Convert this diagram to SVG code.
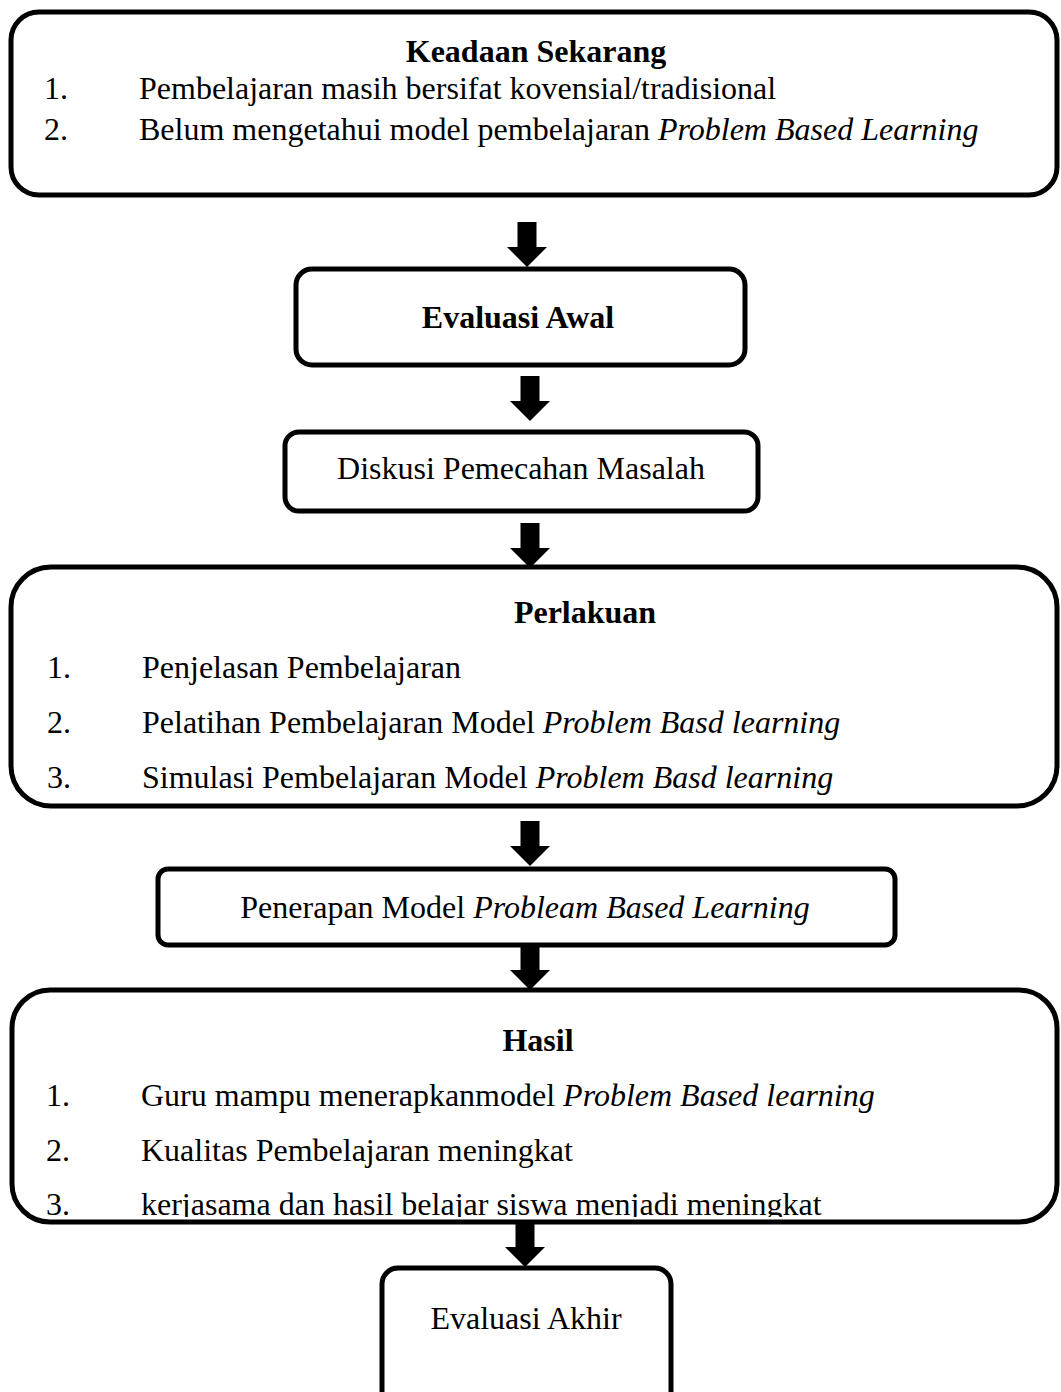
<svg xmlns="http://www.w3.org/2000/svg" width="1061" height="1392" viewBox="0 0 1061 1392">
  <style>
    .box { fill: #ffffff; stroke: #000000; stroke-width: 5; }
    .arrow { fill: #000000; }
    text { font-family: "Liberation Serif", "Times New Roman", serif; font-size: 32px; fill: #000000; }
    .head { font-weight: bold; text-anchor: middle; }
    .mid { text-anchor: middle; }
    .it { font-style: italic; }
  </style>
  <defs>
    <!-- block arrow, tip at origin -->
    <path id="down" d="M-9.5,-45 H9.5 V-20 H20 L0,0 L-20,-20 H-9.5 Z"/>
    <clipPath id="cutLast">
      <rect x="0" y="1180" width="1061" height="37"/>
    </clipPath>
  </defs>
  <rect width="1061" height="1392" fill="#ffffff"/>

  <g id="connectors" class="arrow">
    <use href="#down" x="527" y="267"/>
    <use href="#down" x="530" y="421"/>
    <use href="#down" x="530" y="568"/>
    <use href="#down" x="530" y="866"/>
    <use href="#down" x="530" y="990"/>
    <use href="#down" x="525" y="1267"/>
  </g>

  <g id="keadaan-sekarang">
    <rect class="box" x="11" y="12" width="1046" height="183" rx="28"/>
    <text class="head" x="536" y="62">Keadaan Sekarang</text>
    <text x="44" y="99">1.</text>
    <text x="139" y="99">Pembelajaran masih bersifat kovensial/tradisional</text>
    <text x="44" y="140">2.</text>
    <text x="139" y="140">Belum mengetahui model pembelajaran <tspan class="it">Problem Based Learning</tspan></text>
  </g>

  <g id="evaluasi-awal">
    <rect class="box" x="296" y="269" width="449" height="96" rx="16"/>
    <text class="head" x="518" y="328">Evaluasi Awal</text>
  </g>

  <g id="diskusi">
    <rect class="box" x="285" y="432" width="473" height="79" rx="14"/>
    <text class="mid" x="521" y="479">Diskusi Pemecahan Masalah</text>
  </g>

  <g id="perlakuan">
    <rect class="box" x="11" y="567" width="1046" height="239" rx="40"/>
    <text class="head" x="585" y="623">Perlakuan</text>
    <text x="47" y="678">1.</text>
    <text x="142" y="678">Penjelasan Pembelajaran</text>
    <text x="47" y="733">2.</text>
    <text x="142" y="733">Pelatihan Pembelajaran Model <tspan class="it">Problem Basd learning</tspan></text>
    <text x="47" y="788">3.</text>
    <text x="142" y="788">Simulasi Pembelajaran Model <tspan class="it">Problem Basd learning</tspan></text>
  </g>

  <g id="penerapan">
    <rect class="box" x="158" y="869" width="737" height="76" rx="10"/>
    <text class="mid" x="525" y="918">Penerapan Model <tspan class="it">Probleam Based Learning</tspan></text>
  </g>

  <g id="hasil">
    <rect class="box" x="12" y="990" width="1045" height="232" rx="38"/>
    <text class="head" x="538" y="1051">Hasil</text>
    <text x="46" y="1106">1.</text>
    <text x="141" y="1106">Guru mampu menerapkanmodel <tspan class="it">Problem Based learning</tspan></text>
    <text x="46" y="1161">2.</text>
    <text x="141" y="1161">Kualitas Pembelajaran meningkat</text>
    <g clip-path="url(#cutLast)">
      <text x="46" y="1215">3.</text>
      <text x="141" y="1215">kerjasama dan hasil belajar siswa menjadi meningkat</text>
    </g>
  </g>

  <g id="evaluasi-akhir">
    <rect class="box" x="382" y="1268" width="289" height="150" rx="16"/>
    <text class="mid" x="526" y="1329">Evaluasi Akhir</text>
  </g>
</svg>
